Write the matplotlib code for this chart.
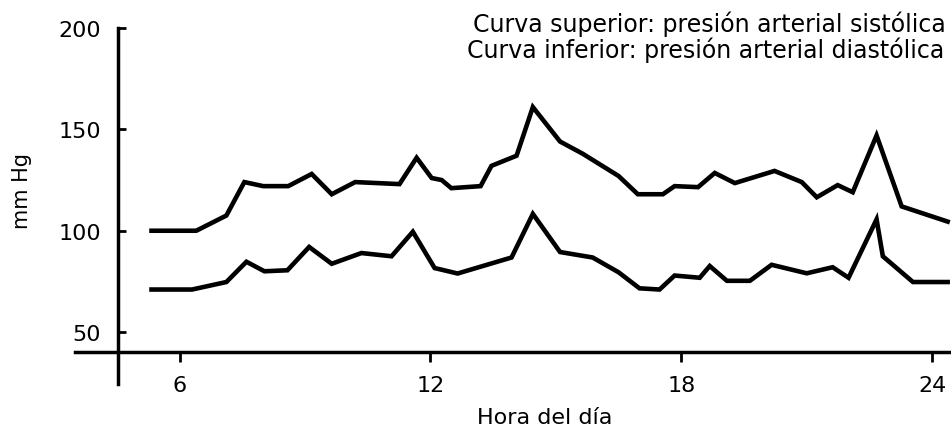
import matplotlib
matplotlib.use("Agg")
import matplotlib.pyplot as plt

plt.rcParams['font.family'] = ['DejaVu Sans']

# hora del dia / presion arterial (mmHg)
hours_sys = [5.33, 6.4, 7.12, 7.55, 8.0, 8.6, 9.16, 9.64, 10.2, 11.26, 11.67,
             12.03, 12.27, 12.5, 13.2, 13.46, 14.06, 14.45, 15.1, 15.64, 16.5,
             16.96, 17.56, 17.84, 18.4, 18.8, 19.28, 20.23, 20.88, 21.24, 21.74,
             22.1, 22.67, 23.27, 24.37]
sys_vals = [100, 100, 107.5, 124, 122, 122, 128, 118, 124, 123, 136,
            126, 125, 121, 122, 132, 137, 161, 144, 138, 127,
            118, 118, 122, 121.5, 128.5, 123.5, 129.5, 124, 116.5, 122.5,
            119, 147, 112, 104.5]

hours_dia = [5.33, 6.3, 7.12, 7.6, 8.03, 8.58, 9.1, 9.64, 10.35, 11.07, 11.58,
             12.1, 12.65, 13.94, 14.45, 15.1, 15.88, 16.5, 17.0, 17.48, 17.84,
             18.44, 18.68, 19.09, 19.64, 20.16, 21.0, 21.62, 22.0, 22.67, 22.82,
             23.54, 24.37]
dia_vals = [71, 71, 74.7, 84.7, 80, 80.5, 92, 83.7, 89, 87.4, 99.5,
            81.6, 78.9, 86.8, 108.3, 89.5, 86.8, 79.5, 71.6, 71, 77.9,
            76.8, 82.6, 75.3, 75.3, 83.2, 79, 82, 76.8, 105.6, 87.4,
            74.7, 74.7]

x_ticks = [6, 12, 18, 24]
y_ticks = [50, 100, 150, 200]

fig = plt.figure(figsize=(9.51, 4.35), dpi=100)
ax = fig.add_axes([75 / 951, 50 / 435, 876 / 951, 356 / 435])

ax.plot(hours_sys, sys_vals, color='black', lw=3.3, solid_joinstyle='miter', clip_on=False)
ax.plot(hours_dia, dia_vals, color='black', lw=3.3, solid_joinstyle='miter', clip_on=False)

ax.set_xlim(3.5, 24.45)
ax.set_ylim(24.4, 200)

for s in ['top', 'right']:
    ax.spines[s].set_visible(False)
ax.spines['left'].set_position(('data', 4.52))
ax.spines['bottom'].set_position(('data', 40))
ax.spines['left'].set_linewidth(2.5)
ax.spines['bottom'].set_linewidth(2.5)

ax.set_xticks(x_ticks)
ax.set_yticks(y_ticks)
ax.tick_params(axis='y', direction='in', length=6, width=2, pad=12, labelsize=16)
ax.tick_params(axis='x', direction='out', length=7, width=2, pad=9, labelsize=16)

fig.text(22 / 951, 1 - 191 / 435, 'mm Hg', rotation=90,
         ha='center', va='center', fontsize=15)
fig.text(545 / 951, 1 - 418 / 435, 'Hora del día', ha='center', va='center', fontsize=16)
fig.text(946 / 951, 1 - 32 / 435, 'Curva superior: presión arterial sistólica',
         ha='right', va='baseline', fontsize=17)
fig.text(944 / 951, 1 - 58 / 435, 'Curva inferior: presión arterial diastólica',
         ha='right', va='baseline', fontsize=17)

fig.savefig('out.png', dpi=100)
